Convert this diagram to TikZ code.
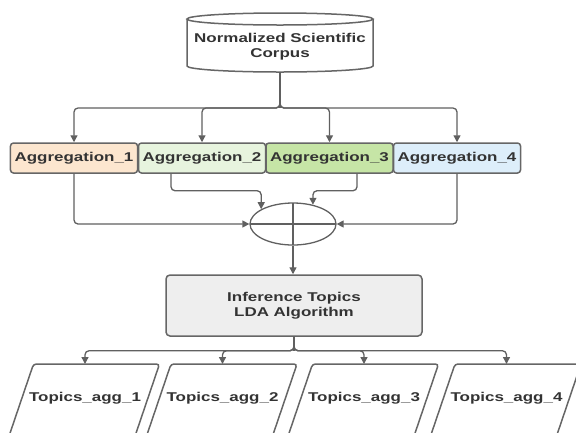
\documentclass[tikz,border=0pt]{standalone}
\usepackage{fontspec}
\setmainfont{Liberation Sans}[FakeStretch=1.33]
\usetikzlibrary{arrows.meta,calc,shapes.geometric}
\definecolor{ln}{HTML}{606060}
\definecolor{bd}{HTML}{666666}
\definecolor{tx}{HTML}{333333}
\definecolor{cA}{HTML}{FCE6CF}
\definecolor{cB}{HTML}{E7F4DE}
\definecolor{cC}{HTML}{C6E5A6}
\definecolor{cD}{HTML}{DDEEFA}
\definecolor{cE}{HTML}{EEEEEE}
\begin{document}
\begin{tikzpicture}[x=1bp,y=-1bp,
  font=\fontsize{12.8}{15}\selectfont\bfseries,
  conn/.style={draw=ln, line width=1.3bp, rounded corners=4bp},
  plain/.style={draw=ln, line width=1.3bp},
  arr/.style={conn, -{Triangle[length=7bp,width=7bp]}},
  agg/.style={draw=bd, line width=1.5bp, rounded corners=3bp, minimum width=127bp,
    minimum height=30bp, inner sep=0pt, text=tx},
  proc/.style={draw=bd, line width=1.5bp, rounded corners=4bp, minimum width=256bp,
    minimum height=61bp, fill=cE, text=tx, align=center},
  shp/.style={draw=bd, line width=1.5bp},
  para/.style={draw=bd, line width=1.5bp, rounded corners=3bp},
  lbl/.style={text=tx, inner sep=0pt, align=center}]
\useasboundingbox (0,0) rectangle (576,432);
\clip (0,0) rectangle (576,432);

% database cylinder
\draw[shp, fill=white] (187,19) -- (187,66) arc[start angle=180, end angle=360, x radius=93bp, y radius=6bp]
  -- (373,19);
\draw[shp] (280,19) ellipse[x radius=93bp, y radius=6bp];
\node[lbl] (db) at (280,46.5) {Normalized Scientific\\Corpus};
\coordinate (dbb) at (280,72);

% aggregation boxes
\node[agg, fill=cA] (a1) at (74,158) {Aggregation\_1};
\node[agg, fill=cB] (a2) at (202,158) {Aggregation\_2};
\node[agg, fill=cC] (a3) at (329.5,158) {Aggregation\_3};
\node[agg, fill=cD] (a4) at (457,158) {Aggregation\_4};

% sum junction
\node[draw=ln, line width=1.3bp, ellipse, minimum width=86bp, minimum height=42bp, inner sep=0pt] (sum) at (293,224) {};
\draw[plain] ($(sum.center)+(-43,0)$) -- ($(sum.center)+(43,0)$);
\draw[plain] ($(sum.center)+(0,-21)$) -- ($(sum.center)+(0,21)$);

% LDA process
\node[proc] (lda) at (294,305.5) {Inference Topics\\LDA Algorithm};

% topic outputs
\foreach \i/\cx in {1/85,2/222.5,3/364,4/506.5}{
  \node[lbl] (t\i) at (\cx,398) {Topics\_agg\_\i};
  \draw[para] ($(t\i)+(-51.5,-34)$) -- ($(t\i)+(74.5,-34)$) -- ($(t\i)+(48.7,42)$)
     -- ($(t\i)+(-77.3,42)$) -- cycle;
  \coordinate (p\i) at ($(t\i)+(0,-34)$);
}

% connectors: corpus to aggregations
\draw[conn] (dbb) -- ++(0,36) coordinate (split);
\foreach \a in {a1,a2,a3,a4}{
  \draw[arr] (dbb) -- (split) -| (\a.north);
}

% aggregations to junction
\draw[arr] (a1.south) |- (sum.west);
\draw[arr] ([xshift=-31bp]a2.south) -- ++(0,17) -| (sum.155);
\draw[arr] ([xshift=27.5bp]a3.south) -- ++(0,17) -| (sum.44);
\draw[arr] (a4.south) |- (sum.east);

% junction to LDA
\draw[arr] (sum.south) -- (sum.south |- lda.north);

% LDA to topics
\draw[conn] (lda.south) -- ++(0,14) coordinate (split2);
\foreach \p in {p1,p2,p3,p4}{
  \draw[arr] (lda.south) -- (split2) -| (\p);
}
\end{tikzpicture}
\end{document}
